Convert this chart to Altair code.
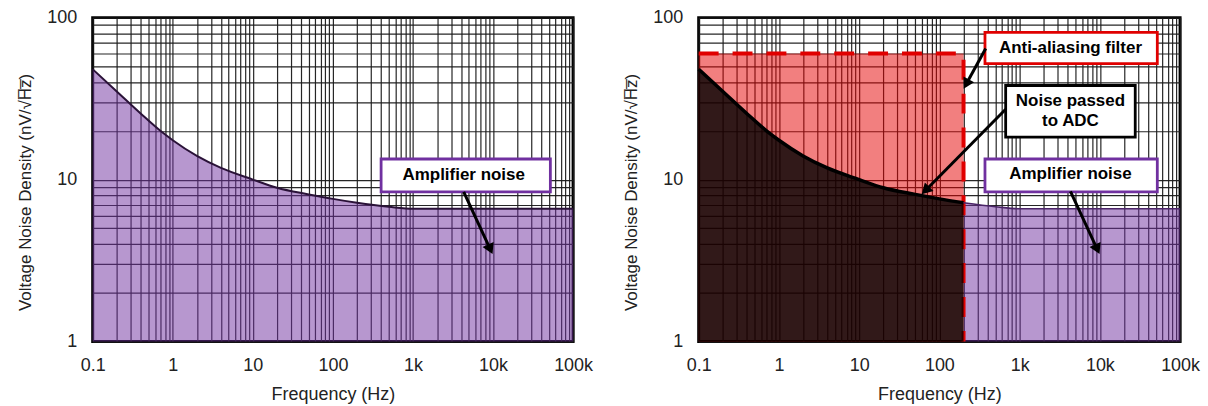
import altair as alt
import pandas as pd

# ---------------- data ----------------
FREQ = [0.1, 0.2, 0.4, 0.7, 1, 2, 4, 10, 20, 50, 100, 200, 500, 1000, 10000, 100000]
NOISE = [48, 35, 25.5, 20, 17.5, 14, 11.8, 10.0, 8.9, 8.1, 7.6, 7.2, 6.8, 6.6, 6.6, 6.6]
FILTER_CUTOFF = 200      # Hz
FILTER_LEVEL = 60        # nV/sqrt(Hz)

X_DOMAIN = [0.1, 100000]
Y_DOMAIN = [1, 100]
X_DECADES = [0.1, 1, 10, 100, 1000, 10000, 100000]
X_LABELS = ["0.1", "1", "10", "100", "1k", "10k", "100k"]
Y_DECADES = [1, 10, 100]
Y_LABELS = ["1", "10", "100"]

X_TITLE = "Frequency (Hz)"
Y_TITLE = "Voltage Noise Density (nV/\u221aH\u0305z\u0305)"

# annotation boxes / texts / arrows (in data coordinates: Hz, nV/sqrt(Hz))
BOX_L = [dict(f1=400, f2=52000, v1=13.4, v2=8.4, stroke="#7030A0")]
TEXT_L = [dict(f=4300, v=10.7, t="Amplifier noise")]
ARROW_L = [dict(f1=4300, v1=8.4, f2=9250, v2=3.71, angle=155)]

BOX_R = [
    dict(f1=370, f2=52000, v1=81, v2=52, stroke="#E00000"),
    dict(f1=670, f2=27600, v1=38.1, v2=18.3, stroke="#000000"),
    dict(f1=370, f2=52000, v1=13.4, v2=8.4, stroke="#7030A0"),
]
TEXT_R = [
    dict(f=4300, v=65, t="Anti-aliasing filter"),
    dict(f=4300, v=30.4, t="Noise passed"),
    dict(f=4300, v=22.9, t="to ADC"),
    dict(f=4300, v=10.8, t="Amplifier noise"),
]
ARROW_R = [
    dict(f1=378, v1=64.4, f2=216, v2=38.9, angle=209),
    dict(f1=670, v1=27.2, f2=67, v2=8.57, angle=225),
    dict(f1=4300, v1=8.45, f2=9290, v2=3.71, angle=155),
]

FONT = "Liberation Sans"

# ---------------- helpers ----------------
def grid_vals(decades):
    vals = set()
    for d in decades[:-1]:
        for m in range(1, 10):
            vals.add(round(m * d, 6))
    vals.add(decades[-1])
    return sorted(vals)


def label_expr(decades, labels):
    expr = "''"
    for d, l in reversed(list(zip(decades, labels))):
        expr = f"datum.value == {d} ? '{l}' : ({expr})"
    return expr


X_GRID = grid_vals(X_DECADES)
Y_GRID = grid_vals(Y_DECADES)

xscale = alt.Scale(type="log", domain=X_DOMAIN, nice=False)
yscale = alt.Scale(type="log", domain=Y_DOMAIN, nice=False)

common_axis = dict(
    grid=True, ticks=False, domain=False, gridColor="#1a1a1a", gridWidth=1.2,
    gridOpacity=0.95, labelFont=FONT, labelFontSize=18, labelColor="#222",
    titleFont=FONT, titleColor="#222", titleFontWeight="normal",
    labelOverlap=False, labelFlush=False,
)
x_axis = alt.Axis(values=X_GRID, labelExpr=label_expr(X_DECADES, X_LABELS),
                  labelPadding=15, title=X_TITLE, titleFontSize=18,
                  titleY=53, titleBaseline="middle", **common_axis)
y_axis = alt.Axis(values=Y_GRID, labelExpr=label_expr(Y_DECADES, Y_LABELS),
                  labelPadding=16, title=Y_TITLE, titleFontSize=17,
                  titleX=-67, titleY=175, titleBaseline="middle", titleAlign="center",
                  **common_axis)

curve = pd.DataFrame({"f": FREQ, "v": NOISE})
curve["base"] = 1.0
curve_low = curve[curve.f <= FILTER_CUTOFF]
curve_high = curve[curve.f >= FILTER_CUTOFF]

W, H = 482, 325


def X(field="f"):
    return alt.X(f"{field}:Q", scale=xscale, axis=x_axis)


def Y(field="v"):
    return alt.Y(f"{field}:Q", scale=yscale, axis=y_axis)


def annotations(boxes, texts, arrows):
    b = alt.Chart(pd.DataFrame(boxes)).mark_rect(fill="white", strokeWidth=2.8).encode(
        x=X("f1"), x2="f2", y=Y("v1"), y2="v2",
        stroke=alt.Stroke("stroke:N", scale=None))
    a = pd.DataFrame(arrows)
    r = alt.Chart(a).mark_rule(color="black", strokeWidth=3).encode(
        x=X("f1"), x2="f2", y=Y("v1"), y2="v2")
    h = alt.Chart(a).mark_point(shape="triangle-up", filled=True, color="black",
                                size=150, opacity=1).encode(
        x=X("f2"), y=Y("v2"), angle=alt.Angle("angle:Q", scale=None))
    t = alt.Chart(pd.DataFrame(texts)).mark_text(
        font=FONT, fontSize=17, fontWeight="bold", color="black",
        align="center", baseline="middle").encode(x=X("f"), y=Y("v"), text="t:N")
    return [b, r, h, t]


# ---------------- left panel ----------------
area_l = alt.Chart(curve).mark_area(color="#7030A0", opacity=0.5, interpolate="monotone").encode(
    x=X(), y=Y(), y2="base")
line_l = alt.Chart(curve).mark_line(color="#2a1238", strokeWidth=2, interpolate="monotone").encode(
    x=X(), y=Y())
left = alt.layer(area_l, line_l, *annotations(BOX_L, TEXT_L, ARROW_L)).properties(width=W, height=H)

# ---------------- right panel ----------------
filt = pd.DataFrame({"f1": [X_DOMAIN[0]], "f2": [FILTER_CUTOFF], "v1": [Y_DOMAIN[0]], "v2": [FILTER_LEVEL]})
filt_path = pd.DataFrame({"f": [X_DOMAIN[0], FILTER_CUTOFF, FILTER_CUTOFF],
                          "v": [FILTER_LEVEL, FILTER_LEVEL, Y_DOMAIN[0]], "o": [0, 1, 2]})

purple_r = alt.Chart(curve_high).mark_area(color="#7030A0", opacity=0.5, interpolate="monotone").encode(
    x=X(), y=Y(), y2="base")
red_rect = alt.Chart(filt).mark_rect(color="#E60000", opacity=0.5).encode(
    x=X("f1"), x2="f2", y=Y("v1"), y2="v2")
red_dash = alt.Chart(filt_path).mark_line(color="#E00000", strokeWidth=4, strokeDash=[20, 14]).encode(
    x=X(), y=Y(), order="o:Q")
black_area = alt.Chart(curve_low).mark_area(color="#000000", opacity=0.8, interpolate="monotone").encode(
    x=X(), y=Y(), y2="base")
black_line = alt.Chart(curve_low).mark_line(color="black", strokeWidth=3.5, interpolate="monotone").encode(
    x=X(), y=Y())
purple_line = alt.Chart(curve_high).mark_line(color="#4a2466", strokeWidth=1.6, interpolate="monotone").encode(
    x=X(), y=Y())

right = alt.layer(purple_r, red_rect, red_dash, black_area, black_line, purple_line,
                  *annotations(BOX_R, TEXT_R, ARROW_R)).properties(width=483, height=H)

chart = alt.hconcat(left, right, spacing=126, bounds="flush").properties(
    padding={"left": 15, "top": 6, "right": 6, "bottom": 4},
    background="white",
).configure_view(stroke="black", strokeWidth=3)

chart.save("out.html", embed_options={"renderer": "svg", "actions": False})
